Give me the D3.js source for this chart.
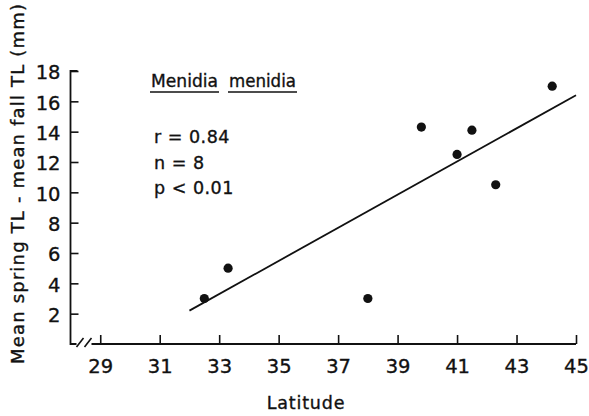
<!DOCTYPE html>
<html lang="en">
<head>
<meta charset="utf-8">
<title>Menidia menidia: size difference vs latitude</title>
<script src="https://d3js.org/d3.v7.min.js"></script>
<style>
  body { margin: 0; background: #fff; }
  text { font-family: "DejaVu Sans", sans-serif; fill: #111; stroke: #111; stroke-width: 0.35px; }
</style>
</head>
<body>
<div id="chart"></div>
<script>
// data
var latitude = [32.5, 33.3, 38.0, 39.8, 41.0, 41.5, 42.3, 44.2];
var sizeDiff = [3.0, 5.0, 3.0, 14.3, 12.5, 14.1, 10.5, 17.0];
var fitLat = [32.0, 45.0];
var fitSize = [2.2, 16.4];
var xTicks = [29, 31, 33, 35, 37, 39, 41, 43, 45];
var yTicks = [2, 4, 6, 8, 10, 12, 14, 16, 18];
var statLines = ["r = 0.84", "n = 8", "p < 0.01"];

var w = 589, h = 416;

var svg = d3.select("#chart").append("svg")
    .attr("width", w)
    .attr("height", h);

var x = d3.scaleLinear().domain([28, 45]).range([70.5, 576]);
var y = d3.scaleLinear().domain([0, 18]).range([344, 71]);

var ink = "#111";

// y axis, ticks pointing inward
var yAxis = svg.append("g")
    .attr("transform", "translate(" + x(28) + ",0)")
    .call(d3.axisLeft(y).tickValues(yTicks).tickSize(-8).tickPadding(10));
yAxis.select(".domain").remove();
yAxis.selectAll("line").attr("stroke", ink).attr("stroke-width", 1.6);
yAxis.selectAll("text").attr("font-size", 19.5).attr("fill", ink)
    .attr("dy", "0.4em")
    .style("font-family", null);

// x axis, ticks pointing up
var xAxis = svg.append("g")
    .attr("transform", "translate(0," + y(0) + ")")
    .call(d3.axisBottom(x).tickValues(xTicks).tickSize(-9).tickPadding(15));
xAxis.select(".domain").remove();
xAxis.selectAll("line").attr("stroke", ink).attr("stroke-width", 1.6);
xAxis.selectAll("text").attr("font-size", 19.5).attr("fill", ink)
    .style("font-family", null);

// axis lines with the break marks near the origin
var axisPath = d3.path();
axisPath.moveTo(x(28) + 7, y(18));
axisPath.lineTo(x(28), y(18));
axisPath.lineTo(x(28), y(0));
axisPath.lineTo(x(28) + 6, y(0));
axisPath.moveTo(x(28) + 21, y(0));
axisPath.lineTo(x(45), y(0));
svg.append("path").attr("d", axisPath.toString())
    .attr("fill", "none").attr("stroke", ink).attr("stroke-width", 1.8);

svg.append("g").selectAll("line")
    .data([0, 8])
    .enter().append("line")
    .attr("x1", function(d) { return x(28) + 6 + d; })
    .attr("y1", y(0) + 3)
    .attr("x2", function(d) { return x(28) + 13 + d; })
    .attr("y2", y(0) - 6)
    .attr("stroke", ink).attr("stroke-width", 1.6);

// regression line
svg.append("line")
    .attr("x1", x(fitLat[0])).attr("y1", y(fitSize[0]))
    .attr("x2", x(fitLat[1])).attr("y2", y(fitSize[1]))
    .attr("stroke", ink).attr("stroke-width", 1.8);

// points
svg.append("g").selectAll("circle")
    .data(latitude)
    .enter().append("circle")
    .attr("cx", function(d) { return x(d); })
    .attr("cy", function(d, i) { return y(sizeDiff[i]); })
    .attr("r", 4.6)
    .attr("fill", ink);

// species name, each word underlined
var species = svg.append("g");
var words = [{t: "Menidia", x: 151, len: 67}, {t: "menidia", x: 229, len: 67}];
words.forEach(function(wd) {
  species.append("text")
      .attr("x", wd.x).attr("y", 87)
      .attr("font-size", 17.5)
      .attr("textLength", wd.len)
      .attr("lengthAdjust", "spacingAndGlyphs")
      .text(wd.t);
  species.append("line")
      .attr("x1", wd.x - 1).attr("x2", wd.x + wd.len + 1)
      .attr("y1", 92).attr("y2", 92)
      .attr("stroke", ink).attr("stroke-width", 1.6);
});

svg.append("g").selectAll("text")
    .data(statLines)
    .enter().append("text")
    .attr("x", 154)
    .attr("y", function(d, i) { return 143 + i * 25.5; })
    .attr("font-size", 17.5)
    .attr("letter-spacing", 0.5)
    .text(function(d) { return d; });

// axis titles
svg.append("text")
    .attr("x", 306).attr("y", 409)
    .attr("text-anchor", "middle")
    .attr("font-size", 17.5)
    .attr("letter-spacing", 0.8)
    .text("Latitude");

svg.append("text")
    .attr("transform", "translate(24,184) rotate(-90)")
    .attr("text-anchor", "middle")
    .attr("font-size", 18)
    .attr("textLength", 360)
    .attr("lengthAdjust", "spacing")
    .text("Mean spring TL - mean fall TL (mm)");
</script>
</body>
</html>
